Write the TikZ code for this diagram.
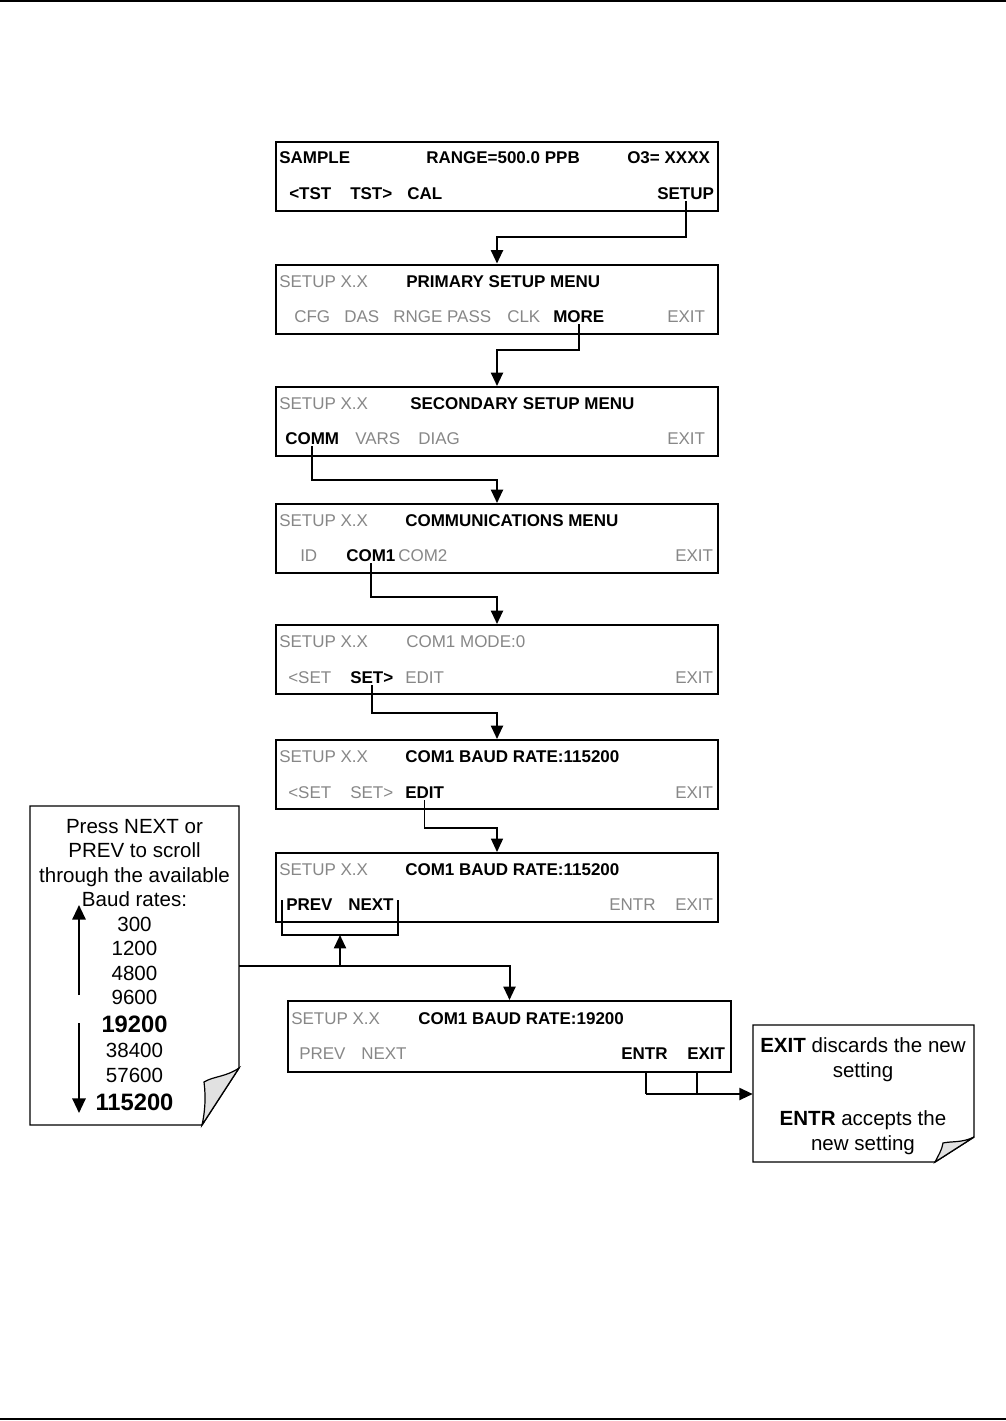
\documentclass[tikz,border=0pt]{standalone}
\usepackage{fontspec}
\setmainfont{Liberation Sans}
\usetikzlibrary{arrows.meta,calc,fit}
\definecolor{txtgray}{RGB}{135,135,135}
\definecolor{foldgray}{RGB}{225,225,225}
\begin{document}
\begin{tikzpicture}[x=0.75pt,y=-0.75pt,
  lcd/.style={draw,line width=1.5pt,minimum width=331.5pt,minimum height=51.75pt,inner sep=0},
  lcdw/.style={lcd,minimum width=332.25pt,minimum height=53.25pt},
  t/.style={anchor=base west,inner sep=0,font=\fontsize{12.75}{15}\selectfont},
  tb/.style={anchor=base west,inner sep=0,font=\fontsize{12.75}{15}\selectfont\bfseries},
  tg/.style={t,text=txtgray},
  nt/.style={anchor=base,inner sep=0,font=\fontsize{15.4}{18}\selectfont},
  ntb/.style={anchor=base,inner sep=0,font=\fontsize{17.8}{20}\selectfont\bfseries},
  conn/.style={line width=1.5pt},
  thinconn/.style={line width=1pt},
  arr/.style={conn,-{Triangle[length=10pt,width=9pt]}},
  thinarr/.style={thinconn,-{Triangle[length=10pt,width=9pt]}},
  bigarr/.style={line width=1.5pt,-{Triangle[length=11pt,width=10pt]}},
  notebd/.style={draw,line width=1.1pt,fill=white},
  fold/.style={draw,line width=0.9pt,fill=foldgray},
  rule/.style={line width=1.1pt}]
\useasboundingbox (0,0) rectangle (1006,1421);
\draw[rule] (0,1) -- (1006,1);
\draw[rule] (0,1419) -- (1006,1419);

% level coordinates
\coordinate (j1) at (0,237);
\coordinate (j2) at (0,350);
\coordinate (j3) at (0,480);
\coordinate (j4) at (0,597);
\coordinate (j5) at (0,713);
\coordinate (j6) at (0,828);
\coordinate (j7) at (0,966);

% Box 1
\node[lcd] (b1) at (497,176.5) {};
\node[tb] (b1a) at (279,163) {SAMPLE};
\node[tb] (b1b) at (426,163) {RANGE=500.0 PPB};
\node[tb] (b1c) at (627,163) {O3= XXXX};
\node[tb] (b1d) at (289,199) {<TST};
\node[tb] (b1e) at (350,199) {TST>};
\node[tb] (b1f) at (407,199) {CAL};
\node[tb] (b1g) at (657,199) {SETUP};

% Box 2
\node[lcd] (b2) at (497,299) {};
\node[tg] (b2a) at (279,287) {SETUP X.X};
\node[tb] (b2b) at (406,287) {PRIMARY SETUP MENU};
\node[tg] (b2c) at (294,322) {CFG};
\node[tg] (b2d) at (344,322) {DAS};
\node[tg] (b2e) at (393,322) {RNGE PASS};
\node[tg] (b2f) at (507,322) {CLK};
\node[tb] (b2g) at (553,322) {MORE};
\node[tg] (b2h) at (667,322) {EXIT};

% Box 3
\node[lcd] (b3) at (497,421.5) {};
\node[tg] (b3a) at (279,409) {SETUP X.X};
\node[tb] (b3b) at (410,409) {SECONDARY SETUP MENU};
\node[tb] (b3c) at (285,444) {COMM};
\node[tg] (b3d) at (355,444) {VARS};
\node[tg] (b3e) at (418,444) {DIAG};
\node[tg] (b3f) at (667,444) {EXIT};

% Box 4
\node[lcd] (b4) at (497,538.5) {};
\node[tg] (b4a) at (279,526) {SETUP X.X};
\node[tb] (b4b) at (405,526) {COMMUNICATIONS MENU};
\node[tg] (b4c) at (300,561) {ID};
\node[tb] (b4d) at (346,561) {COM1};
\node[tg] (b4e) at (398,561) {COM2};
\node[tg] (b4f) at (675,561) {EXIT};

% Box 5
\node[lcd] (b5) at (497,659.5) {};
\node[tg] (b5a) at (279,647) {SETUP X.X};
\node[tg] (b5b) at (406,647) {COM1 MODE:0};
\node[tg] (b5c) at (288,683) {<SET};
\node[tb] (b5d) at (350,683) {SET>};
\node[tg] (b5e) at (405,683) {EDIT};
\node[tg] (b5f) at (675,683) {EXIT};

% Box 6
\node[lcd] (b6) at (497,774.5) {};
\node[tg] (b6a) at (279,762) {SETUP X.X};
\node[tb] (b6b) at (405,762) {COM1 BAUD RATE:115200};
\node[tg] (b6c) at (288,798) {<SET};
\node[tg] (b6d) at (350,798) {SET>};
\node[tb] (b6e) at (405,798) {EDIT};
\node[tg] (b6f) at (675,798) {EXIT};

% Box 7
\node[lcd] (b7) at (497,887.5) {};
\node[tg] (b7a) at (279,875) {SETUP X.X};
\node[tb] (b7b) at (405,875) {COM1 BAUD RATE:115200};
\node[tb] (b7c) at (286,910) {PREV};
\node[tb] (b7d) at (348,910) {NEXT};
\node[tg] (b7e) at (609,910) {ENTR};
\node[tg] (b7f) at (675,910) {EXIT};

% Box 8
\node[lcdw] (b8) at (509.5,1036.5) {};
\node[tg] (b8a) at (291,1024) {SETUP X.X};
\node[tb] (b8b) at (418,1024) {COM1 BAUD RATE:19200};
\node[tg] (b8c) at (299,1059) {PREV};
\node[tg] (b8d) at (361,1059) {NEXT};
\node[tb] (b8e) at (621,1059) {ENTR};
\node[tb] (b8f) at (687,1059) {EXIT};

% connectors
\draw[arr] ($(b1g.south)+(0,2)$) -- (b1g.south |- j1) -| (b2.north);
\draw[arr] ($(b2g.south)+(0,2)$) -- (b2g.south |- j2) -| (b3.north);
\draw[arr] ($(b3c.south)+(0,2)$) -- (b3c.south |- j3) -| (b4.north);
\draw[arr] ($(b4d.south)+(0,2)$) -- (b4d.south |- j4) -| (b5.north);
\draw[arr] ($(b5d.south)+(0,2)$) -- (b5d.south |- j5) -| (b6.north);
\draw[thinarr] ($(b6e.south)+(0,2)$) -- (b6e.south |- j6) -| (b7.north);

% left note
\draw[notebd] (30,806) -- (239,806) -- (239,1068) -- (202,1125) -- (30,1125) -- cycle;
\draw[fold] (239,1068) .. controls (226,1077) and (214,1076) .. (204,1082)
  .. controls (206,1097) and (205,1112) .. (202,1125) -- cycle;
\node[fit={(30,806) (239,1125)},inner sep=0] (lnote) {};
\node[nt] (n1) at (134.5,833) {Press NEXT or};
\node[nt] (n2) at (134.5,857.5) {PREV to scroll};
\node[nt] (n3) at (134.5,882) {through the available};
\node[nt] (n4) at (134.5,906.5) {Baud rates:};
\node[nt] (n5) at (134.5,931) {300};
\node[nt] (n6) at (134.5,955.5) {1200};
\node[nt] (n7) at (134.5,980) {4800};
\node[nt] (n8) at (134.5,1004.5) {9600};
\node[ntb] (n9) at (134.5,1032) {19200};
\node[nt] (n10) at (134.5,1057) {38400};
\node[nt] (n11) at (134.5,1082) {57600};
\node[ntb] (n12) at (134.5,1110) {115200};
\coordinate (upA) at (79,995);
\coordinate (upB) at (79,905);
\coordinate (dnA) at (79,1023);
\coordinate (dnB) at (79,1113);
\draw[bigarr] (upA) -- (upB);
\draw[bigarr] (dnA) -- (dnB);

% right note
\draw[notebd] (753,1025) -- (974,1025) -- (974,1137) -- (935,1162) -- (753,1162) -- cycle;
\draw[fold] (974,1137) .. controls (962,1143) and (952,1141) .. (943,1143)
  .. controls (942,1150) and (938,1156) .. (935,1162) -- cycle;
\node[fit={(753,1025) (974,1162)},inner sep=0] (rnote) {};
\node[nt] (r1) at (863,1052) {\textbf{EXIT} discards the new};
\node[nt] (r2) at (863,1077) {setting};
\node[nt] (r3) at (863,1125) {\textbf{ENTR} accepts the};
\node[nt] (r4) at (863,1150) {new setting};

% PREV/NEXT bracket
\coordinate (brTL) at (282,900);
\coordinate (brBL) at (282,935);
\coordinate (brBR) at (398,935);
\coordinate (brTR) at (398,900);
\coordinate (brM) at (340,935);
\draw[thinconn] (brTL) -- (brBL) -- (brBR) -- (brTR);
\draw[arr] (brM |- j7) -- (brM);
\draw[arr] (lnote.east |- j7) -- (j7 -| b8.north) -- (b8.north);

% ENTR/EXIT bracket
\coordinate (eL) at (646,1094);
\coordinate (eR) at (697,1094);
\draw[thinconn] (b8.south -| eL) -- (eL);
\draw[thinconn] (b8.south -| eR) -- (eR);
\draw[arr] (eL) -- (eL -| rnote.west);
\end{tikzpicture}
\end{document}
